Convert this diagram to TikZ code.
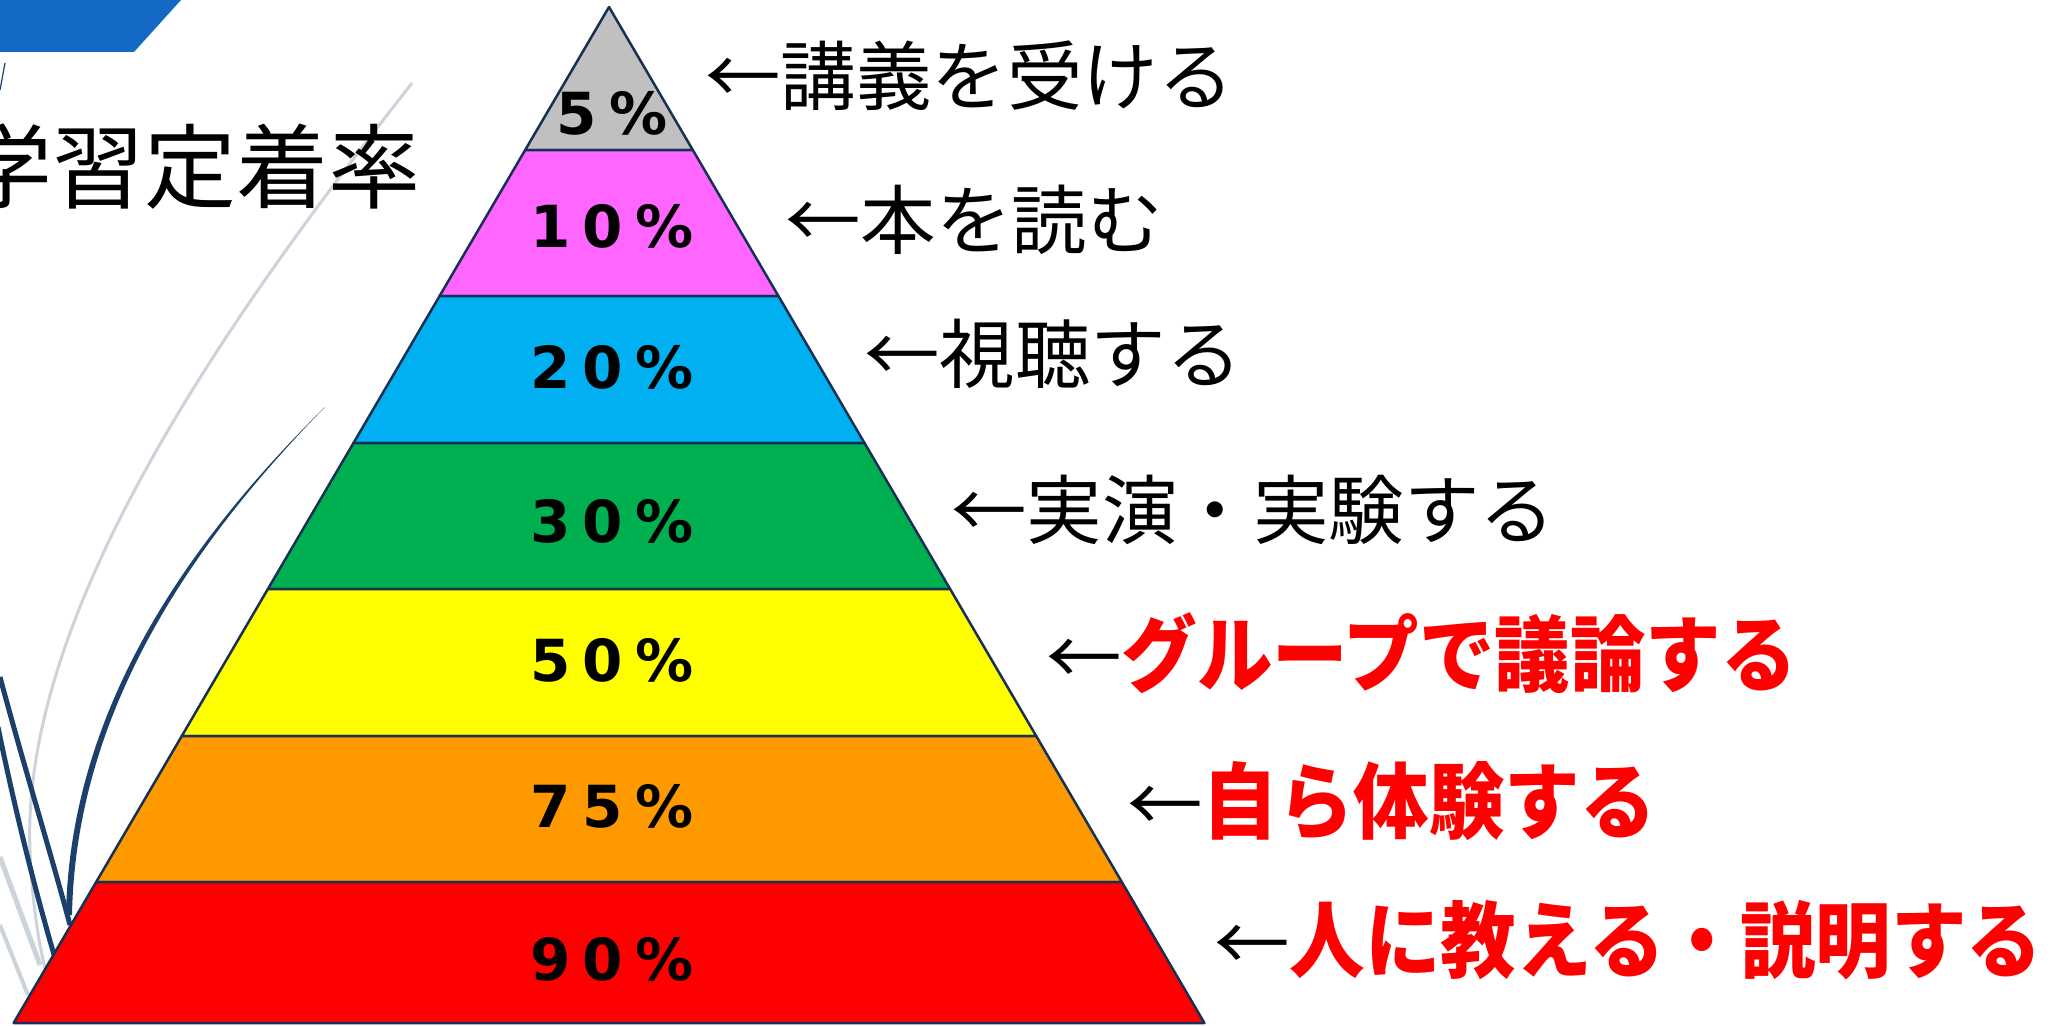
\documentclass[tikz,border=0pt]{standalone}
\usepackage{fontspec}
\usepackage{graphicx}
\newfontfamily\jp{Noto Sans CJK JP}
\newfontfamily\pctfont{DejaVu Sans}
\definecolor{barblue}{RGB}{20,105,196}
\definecolor{edgenavy}{RGB}{23,48,84}
\definecolor{deconavy}{RGB}{27,64,108}
\definecolor{decogrey}{RGB}{205,211,218}
\definecolor{cgrey}{RGB}{192,192,192}
\definecolor{cpink}{RGB}{255,102,255}
\definecolor{cblue}{RGB}{0,176,240}
\definecolor{cgreen}{RGB}{0,176,80}
\definecolor{cyellow}{RGB}{255,255,0}
\definecolor{corange}{RGB}{255,153,0}
\definecolor{cred}{RGB}{255,0,0}
\tikzset{
  band/.style={draw=edgenavy, line width=2.5pt, line join=round},
  pct/.style={anchor=base, inner sep=0pt, font=\pctfont\bfseries\fontsize{58}{60}\selectfont},
  lab/.style={anchor=base west, inner sep=0pt, font=\jp\fontsize{75.5}{80}\selectfont},
  title/.style={anchor=base west, inner sep=0pt, font=\jp\fontsize{92}{96}\selectfont},
}
\newcommand{\redtxt}[1]{\textcolor{cred}{\bfseries\scalebox{1}[1.1]{#1}}}
\newcommand{\pgap}{\hspace{12pt}}
\begin{document}
\begin{tikzpicture}[x=1pt,y=-1pt]
\clip (0,0) rectangle (2058,1025);
\fill[white] (0,0) rectangle (2058,1025);
% decorative background
\fill[barblue] (-10,0) -- (181,0) -- (134,52) -- (-10,52) -- cycle;
\draw[deconavy, line width=1.2pt] (5,63) -- (0,90);
\draw[decogrey, line width=3pt] (412,83) .. controls (250,290) and (20,600) .. (30,850) .. controls (32,900) and (38,940) .. (45,968);
\draw[decogrey, line width=5pt] (0,857) -- (40,965);
\draw[decogrey, line width=4pt] (0,925) -- (28,995);
\fill[deconavy] (325,407) .. controls (200,530) and (70,700) .. (66,915) -- (72,915) .. controls (76,702) and (203,532) .. (325,407) -- cycle;
\draw[deconavy, line width=5pt] (0,677) .. controls (25,770) and (50,850) .. (70,925);
\draw[deconavy, line width=5pt] (-2,727) .. controls (15,810) and (35,890) .. (55,958);
% title
\node[title] (title) at (-40,201) {学習定着率};
% pyramid bands
\filldraw[band, fill=cgrey] (609,7) -- (692.8,150) -- (525.2,150) -- cycle;
\filldraw[band, fill=cpink] (525.2,150) -- (692.8,150) -- (778.4,296) -- (439.6,296) -- cycle;
\filldraw[band, fill=cblue] (439.6,296) -- (778.4,296) -- (864.5,443) -- (353.5,443) -- cycle;
\filldraw[band, fill=cgreen] (353.5,443) -- (864.5,443) -- (950.1,589) -- (267.9,589) -- cycle;
\filldraw[band, fill=cyellow] (267.9,589) -- (950.1,589) -- (1036.2,736) -- (181.8,736) -- cycle;
\filldraw[band, fill=corange] (181.8,736) -- (1036.2,736) -- (1121.8,882) -- (96.2,882) -- cycle;
\filldraw[band, fill=cred] (96.2,882) -- (1121.8,882) -- (1204.4,1023) -- (13.6,1023) -- cycle;
% percentages
\node[pct] (p5) at (612,134) {5\pgap\%};
\node[pct] (p10) at (612,247) {1\pgap0\pgap\%};
\node[pct] (p20) at (612,388) {2\pgap0\pgap\%};
\node[pct] (p30) at (612,542) {3\pgap0\pgap\%};
\node[pct] (p50) at (612,681) {5\pgap0\pgap\%};
\node[pct] (p75) at (612,827) {7\pgap5\pgap\%};
\node[pct] (p90) at (612,980) {9\pgap0\pgap\%};
% labels
\node[lab] (l1) at (705,104) {←講義を受ける};
\node[lab] (l2) at (785,248) {←本を読む};
\node[lab] (l3) at (864,382) {←視聴する};
\node[lab] (l4) at (951,538) {←実演・実験する};
\node[lab] (l5) at (1046,685) {←\redtxt{グループで議論する}};
\node[lab] (l6) at (1127,832) {←\redtxt{自ら体験する}};
\node[lab] (l7) at (1214,971) {←\redtxt{人に教える・説明する}};
\end{tikzpicture}
\end{document}
